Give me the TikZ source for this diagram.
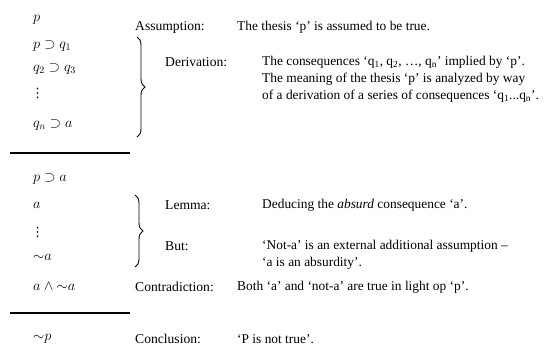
\documentclass[tikz,border=0pt]{standalone}
\usepackage{amsmath, amssymb}
\usepackage{fontspec}
\setmainfont{Liberation Serif}
\newfontfamily\symfont{DejaVu Sans}
\usetikzlibrary{positioning, decorations.pathreplacing}

\tikzset{
  formula/.style={anchor=west, inner sep=0pt, font=\fontsize{14.5}{16}\selectfont},
  dotsfill/.style={anchor=west, inner sep=0pt, font=\symfont\fontsize{13}{14}\selectfont},
  rolelabel/.style={anchor=west, inner sep=0pt, font=\fontsize{13.6}{16}\selectfont},
  remark/.style={anchor=west, inner sep=0pt, align=left, font=\fontsize{13.4}{17}\selectfont},
  rulebar/.style={line width=1.8pt},
  stepbrace/.style={decorate, decoration={brace, amplitude=8pt}, line width=0.9pt}
}

\begin{document}
\begin{tikzpicture}[x=1pt, y=-1pt]
  \useasboundingbox (0,0) rectangle (550,347);

  % first part: assumption and derivation
  \node[formula] (thesis) at (33,20) {$p$};
  \node[formula] (impl1) at (33,46) {$p \supset q_1$};
  \node[formula] (impl2) at (33,69) {$q_2 \supset q_3$};
  \node[dotsfill] (dots1) at (31,93) {⋮};
  \node[formula] (impln) at (33,125) {$q_n \supset a$};

  \node[rolelabel] (assume) at (135,27) {Assumption:};
  \node[remark] (assumetxt) at (237,27) {The thesis ‘p’ is assumed to be true.};

  \coordinate (bracetop1) at (137,37);
  \coordinate (bracebot1) at (137,137);
  \draw[stepbrace] (bracetop1) -- (bracebot1);

  \node[rolelabel] (derive) at (165,62) {Derivation:};
  \node[remark] (derivetxt) at (262,79.5) {The consequences ‘q\textsubscript{1}, q\textsubscript{2}, \dots, q\textsubscript{n}’ implied by ‘p’.\\
    The meaning of the thesis ‘p’ is analyzed by way\\
    of a derivation of a series of consequences ‘q\textsubscript{1}...q\textsubscript{n}’.};

  \coordinate (barL1) at (10,153);
  \coordinate (barR1) at (130,153);
  \draw[rulebar] (barL1) -- (barR1);

  % second part: lemma and contradiction
  \node[formula] (implA) at (33,179) {$p \supset a$};
  \node[formula] (absurd) at (33,205) {$a$};
  \node[dotsfill] (dots2) at (31,232) {⋮};
  \node[formula] (nota) at (33,257) {${\sim}a$};
  \node[formula] (both) at (33,287) {$a \wedge {\sim}a$};

  \coordinate (bracetop2) at (135,195);
  \coordinate (bracebot2) at (135,267);
  \draw[stepbrace] (bracetop2) -- (bracebot2);

  \node[rolelabel] (lemma) at (165,205) {Lemma:};
  \node[remark] (lemmatxt) at (262,205) {Deducing the \textit{absurd} consequence ‘a’.};
  \node[rolelabel] (but) at (165,246) {But:};
  \node[remark] (buttxt) at (262,255) {‘Not-a’ is an external additional assumption –\\
    ‘a is an absurdity’.};

  \node[rolelabel] (contra) at (135,287) {Contradiction:};
  \node[remark] (contratxt) at (237,287) {Both ‘a’ and ‘not-a’ are true in light op ‘p’.};

  \coordinate (barL2) at (10,313);
  \coordinate (barR2) at (130,313);
  \draw[rulebar] (barL2) -- (barR2);

  % conclusion
  \node[formula] (notp) at (33,339) {${\sim}p$};
  \node[rolelabel] (concl) at (135,339) {Conclusion:};
  \node[remark] (concltxt) at (237,339) {‘P is not true’.};
\end{tikzpicture}
\end{document}
